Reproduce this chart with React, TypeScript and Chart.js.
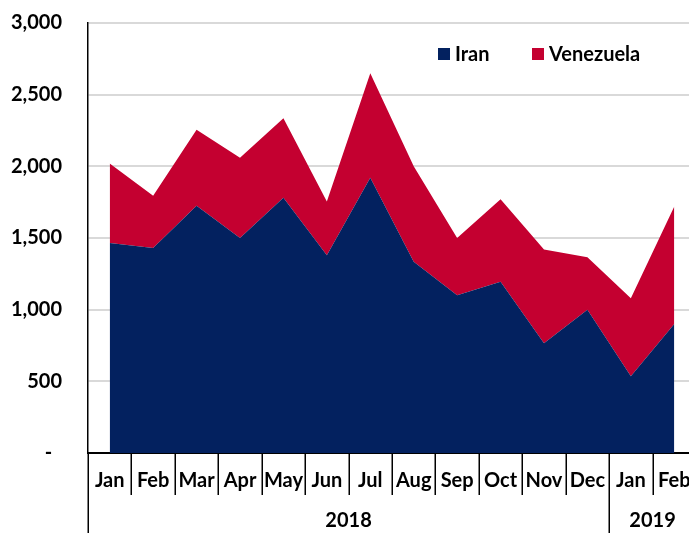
import React, { useEffect, useRef } from "react";
import { Chart, registerables } from "chart.js";

Chart.register(...registerables);

const months = ["Jan", "Feb", "Mar", "Apr", "May", "Jun", "Jul", "Aug", "Sep", "Oct", "Nov", "Dec", "Jan", "Feb"];
const yearLabels = ["2018", "2019"];
const yearSpans = [12, 2];
const iran = [1465, 1430, 1725, 1500, 1780, 1380, 1920, 1335, 1100, 1195, 765, 1000, 535, 900];
const venezuela = [555, 365, 530, 560, 555, 375, 730, 665, 400, 575, 655, 365, 545, 820];
const seriesNames = ["Iran", "Venezuela"];
const seriesColors = ["#03215F", "#C40030"];
const yTicks = [0, 500, 1000, 1500, 2000, 2500, 3000];

const FONT = "Lato";

const decorPlugin = {
  id: "decor",
  afterDraw(chart: any) {
    const { ctx, chartArea, scales } = chart;
    const x = scales.x;
    const n = months.length;
    const edges: number[] = [x.left];
    for (let i = 0; i < n - 1; i++) {
      edges.push((x.getPixelForValue(i) + x.getPixelForValue(i + 1)) / 2);
    }
    edges.push(x.right);
    const groupEdges = [0];
    let acc = 0;
    yearSpans.forEach((s) => {
      acc += s;
      groupEdges.push(acc);
    });
    const bottom = chartArea.bottom;
    const H = chart.height;
    ctx.save();
    ctx.strokeStyle = "#000";
    ctx.lineWidth = 1.5;
    edges.forEach((ex, i) => {
      const long = groupEdges.includes(i);
      ctx.beginPath();
      ctx.moveTo(Math.round(ex) + 0.25, bottom);
      ctx.lineTo(Math.round(ex) + 0.25, long ? H : bottom + 42);
      ctx.stroke();
    });
    // year labels
    ctx.fillStyle = "#000";
    ctx.font = `bold 20px ${FONT}`;
    ctx.textAlign = "center";
    ctx.textBaseline = "middle";
    for (let g = 0; g < yearLabels.length; g++) {
      const cx = (edges[groupEdges[g]] + edges[groupEdges[g + 1]]) / 2;
      ctx.fillText(yearLabels[g], cx, bottom + 68);
    }
    // legend
    const legendX = [438, 532];
    const ly = 54;
    ctx.textAlign = "left";
    for (let k = 0; k < seriesNames.length; k++) {
      ctx.fillStyle = seriesColors[k];
      ctx.fillRect(legendX[k], ly - 6, 12, 12);
      ctx.fillStyle = "#000";
      ctx.fillText(seriesNames[k], legendX[k] + 17, ly + 1);
    }
    ctx.restore();
  },
};

export default function App() {
  const ref = useRef<HTMLCanvasElement | null>(null);
  useEffect(() => {
    if (!ref.current) return;
    const chart = new Chart(ref.current, {
      type: "line",
      data: {
        labels: months,
        datasets: [
          {
            label: seriesNames[0],
            data: iran,
            backgroundColor: seriesColors[0],
            borderColor: seriesColors[0],
            borderWidth: 0,
            pointRadius: 0,
            fill: "origin",
            tension: 0,
          },
          {
            label: seriesNames[1],
            data: venezuela,
            backgroundColor: seriesColors[1],
            borderColor: seriesColors[1],
            borderWidth: 0,
            pointRadius: 0,
            fill: "-1",
            tension: 0,
          },
        ],
      },
      options: {
        animation: false,
        responsive: false,
        devicePixelRatio: 1,
        layout: { padding: { top: 23, left: 0, right: 0, bottom: 0 } },
        plugins: { legend: { display: false }, tooltip: { enabled: false } },
        scales: {
          x: {
            offset: true,
            grid: { display: false, drawTicks: false },
            border: { color: "#000", width: 2 },
            ticks: {
              color: "#000",
              font: { family: FONT, size: 20, weight: "bold" },
              padding: 16,
              maxRotation: 0,
              autoSkip: false,
            },
            afterFit: (s: any) => {
              s.height = 80;
              s.paddingLeft = 0;
              s.paddingRight = 0;
            },
          },
          y: {
            stacked: true,
            min: 0,
            max: 3000,
            afterBuildTicks: (s: any) => {
              s.ticks = yTicks.map((v) => ({ value: v }));
            },
            grid: { color: "#D9D9D9", lineWidth: 2, drawTicks: false },
            border: { color: "#000", width: 1.5 },
            ticks: {
              color: "#000",
              padding: 26,
              font: { family: FONT, size: 20, weight: "bold" },
              callback: (v: any) => (Number(v) === 0 ? "-  " : Number(v).toLocaleString("en-US")),
            },
            afterFit: (s: any) => {
              s.width = 88;
              s.paddingTop = 0;
              s.paddingBottom = 0;
            },
          },
        },
      },
      plugins: [decorPlugin],
    });
    return () => chart.destroy();
  }, []);
  return (
    <div style={{ position: "fixed", left: 0, top: 0, width: 689, height: 533, overflow: "hidden", background: "#fff" }}>
      <canvas ref={ref} width={696} height={533} style={{ width: 696, height: 533, display: "block" }} />
    </div>
  );
}
